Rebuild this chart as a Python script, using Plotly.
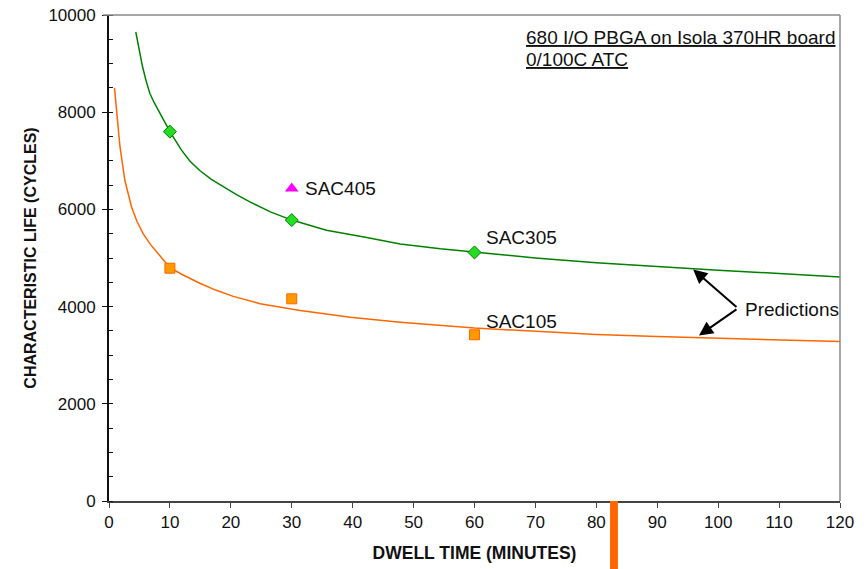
import plotly.graph_objects as go

# Measured characteristic life (cycles) vs dwell time (minutes)
sac305_dwell = [10, 30, 60]
sac305_life = [7600, 5780, 5115]
sac105_dwell = [10, 30, 60]
sac105_life = [4790, 4160, 3420]
sac405_dwell = [30]
sac405_life = [6430]

# Model prediction curves
pred305_dwell = [4.4, 5.0, 5.5, 6.1, 6.7, 7.4, 8.1, 9.0, 10, 11.0, 11.9, 13.3, 14.9, 16.8,
                 18.8, 21.0, 23.2, 26.5, 30, 35.7, 42.3, 47.8, 54.4, 60, 70, 80, 90, 100, 110, 120]
pred305_life = [9650, 9260, 8940, 8640, 8390, 8200, 8040, 7820, 7600, 7400, 7220, 6990, 6800, 6620,
                6460, 6300, 6150, 5950, 5780, 5570, 5420, 5290, 5190, 5120, 5000, 4900, 4820,
                4750, 4680, 4610]
pred105_dwell = [0.9, 1.26, 1.8, 2.6, 3.7, 4.6, 5.6, 6.8, 8.1, 10, 12.0, 14.9, 17.5, 20.4, 24.8,
                 31.4, 39.6, 47.8, 60, 70, 80, 90, 100, 110, 120]
pred105_life = [8500, 7970, 7290, 6600, 6050, 5750, 5500, 5280, 5090, 4800, 4660, 4480, 4340,
                4210, 4060, 3920, 3780, 3680, 3560, 3485, 3425, 3385, 3350, 3315, 3280]

x_ticks = list(range(0, 121, 10))
y_ticks = list(range(0, 10001, 2000))
y_tick_text = [str(v) for v in y_ticks]

FONT = "Liberation Sans, Arial, sans-serif"

fig = go.Figure()

fig.add_trace(go.Scatter(x=pred305_dwell, y=pred305_life, mode="lines",
                         line=dict(color="#008000", width=1.5), hoverinfo="skip"))
fig.add_trace(go.Scatter(x=pred105_dwell, y=pred105_life, mode="lines",
                         line=dict(color="#FF6600", width=1.5), hoverinfo="skip"))
fig.add_trace(go.Scatter(x=sac305_dwell, y=sac305_life, mode="markers", name="SAC305",
                         marker=dict(symbol="diamond", size=10, color="#22DD22",
                                     line=dict(color="#008000", width=1))))
fig.add_trace(go.Scatter(x=sac105_dwell, y=sac105_life, mode="markers", name="SAC105",
                         marker=dict(symbol="square", size=10, color="#FF9900",
                                     line=dict(color="#FF6600", width=1))))
fig.add_trace(go.Scatter(x=sac405_dwell, y=sac405_life, mode="markers", name="SAC405",
                         marker=dict(symbol="triangle-up", size=12, color="#FF00FF",
                                     line=dict(width=0))))

text_font = dict(family=FONT, size=19, color="#111111")

# Series labels
for txt, x, y in [("SAC405", 32.2, 6433), ("SAC305", 61.9, 5424), ("SAC105", 61.9, 3695),
                  ("Predictions", 104.4, 3942)]:
    fig.add_annotation(x=x, y=y, text=txt, showarrow=False, xanchor="left",
                       yanchor="middle", font=text_font, xshift=-2)

# Arrows pointing from the "Predictions" label to both curves
for hx, hy in [(95.9, 4765), (96.85, 3407)]:
    fig.add_annotation(x=hx, y=hy, ax=103.25, ay=3963, axref="x", ayref="y",
                       xref="x", yref="y", text="", showarrow=True,
                       arrowhead=2, arrowsize=1.4, arrowwidth=2, arrowcolor="#000000")

# Test condition note
fig.add_annotation(x=68.45, y=9541, text="<u>680 I/O PBGA on Isola 370HR board</u>",
                   showarrow=False, xanchor="left", yanchor="middle", font=text_font, xshift=-2)
fig.add_annotation(x=68.45, y=9088, text="<u>0/100C ATC</u>",
                   showarrow=False, xanchor="left", yanchor="middle", font=text_font, xshift=-2)

# Gray frame on top and right edges
fig.add_shape(type="line", xref="paper", yref="paper", x0=-0.008, x1=1, y0=1, y1=1,
              line=dict(color="#888888", width=1.5))
fig.add_shape(type="line", xref="paper", yref="paper", x0=1, x1=1, y0=0, y1=1,
              line=dict(color="#888888", width=1.5))

# Orange marker bar below the axis
fig.add_shape(type="rect", xref="x", yref="paper", x0=82.25, x1=83.55, y0=-0.15, y1=0,
              fillcolor="#FF6600", line=dict(width=0), layer="above")

fig.update_layout(
    width=867, height=569,
    margin=dict(l=109, r=27, t=15, b=68),
    paper_bgcolor="white", plot_bgcolor="white",
    showlegend=False,
    font=dict(family=FONT, size=17, color="#111111"),
    xaxis=dict(range=[0, 120], tickvals=x_ticks, ticks="outside", ticklen=5,
               tickcolor="#444444", showline=True, linecolor="#444444", linewidth=1.5,
               showgrid=False, zeroline=False, automargin=False,
               title=dict(text="<b>DWELL TIME (MINUTES)</b>", font=dict(size=17.5),
                          standoff=16)),
    yaxis=dict(range=[0, 10000], tickvals=y_ticks, ticktext=y_tick_text,
               ticks="outside", ticklen=5, automargin=False,
               tickcolor="#111111", showline=True, linecolor="#111111", linewidth=1.8,
               showgrid=False, zeroline=False, ticklabelstandoff=3,
               minor=dict(dtick=500, ticks="inside", ticklen=4, tickcolor="#111111"),
               title=dict(text="<b>CHARACTERISTIC LIFE (CYCLES)</b>", font=dict(size=16),
                          standoff=8)),
)

fig.write_html("out.html")
